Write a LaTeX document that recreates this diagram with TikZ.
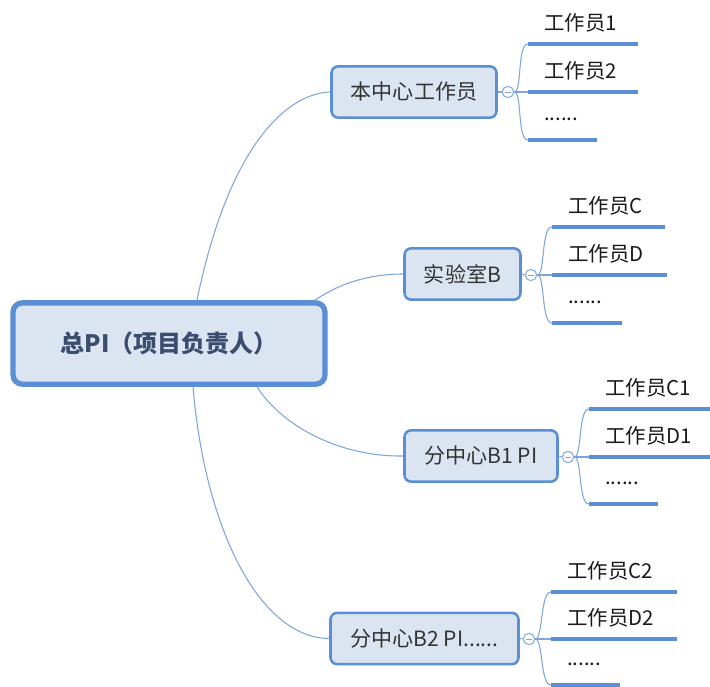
\documentclass[tikz,border=0pt]{standalone}
\usepackage{fontspec}
\setmainfont{Noto Sans CJK SC}
\definecolor{boxfill}{HTML}{DBE5F1}
\definecolor{boxline}{HTML}{5A8ED5}
\definecolor{conline}{HTML}{7EA6DD}
\definecolor{leafline}{HTML}{5A8FD6}
\definecolor{roottext}{HTML}{3A4D6E}
\definecolor{brtext}{HTML}{333333}
\definecolor{circline}{HTML}{8FB4E3}
\tikzset{
  rootbox/.style={draw=boxline, fill=boxfill, line width=4pt, rounded corners=7pt,
    font=\fontsize{18}{22}\selectfont\bfseries, text=roottext,
    minimum width=234pt, minimum height=61pt, inner sep=0pt},
  brbox/.style={draw=boxline, fill=boxfill, line width=1.9pt, rounded corners=5pt,
    font=\fontsize{15.8}{19}\selectfont, text=brtext, minimum height=38.5pt, inner sep=0pt},
  foldc/.style={circle, draw=circline, fill=white, line width=0.9pt, minimum size=8.5pt, inner sep=0pt,
    path picture={\draw[circline!80!gray, line width=0.7pt] ([xshift=-2.2pt]path picture bounding box.center) -- ([xshift=2.2pt]path picture bounding box.center);}},
  leaftext/.style={anchor=west, inner sep=0pt, font=\fontsize{15.3}{18}\selectfont, text=black!90},
  conn/.style={draw=conline, line width=0.8pt},
  leafln/.style={draw=leafline, line width=2.3pt},
}
\begin{document}
\begin{tikzpicture}[x=0.75pt, y=-0.75pt]
\useasboundingbox (0,0) rectangle (710,686);

% root
\node[rootbox] (root) at (169,343.5) {总PI（项目负责人）};

% branches
\node[brbox, minimum width=123.75pt] (b0) at (414,92) {本中心工作员};
\node[brbox, minimum width=87pt] (b1) at (462.5,274) {实验室B};
\node[brbox, minimum width=114.75pt] (b2) at (481,456) {分中心B1 PI};
\node[brbox, minimum width=141pt] (b3) at (424.5,638.5) {分中心B2 PI......};

% root connectors
\coordinate (r0) at ([xshift=21pt]root.north);
\coordinate (r1) at ([xshift=109.5pt]root.north);
\coordinate (r2) at ([xshift=66pt]root.south);
\coordinate (r3) at ([xshift=18pt]root.south);
\draw[conn] (r0) .. controls (230,140) and (290,93) .. (b0.west);
\draw[conn] (r1) .. controls (340,283) and (370,274) .. (b1.west);
\draw[conn] (r2) .. controls (285,430) and (345,457) .. (b2.west);
\draw[conn] (r3) .. controls (205,530) and (260,638) .. (b3.west);

% fold circles
\node[foldc] (c0) at (508,92) {};
\node[foldc] (c1) at (531,275) {};
\node[foldc] (c2) at (568,457) {};
\node[foldc] (c3) at (529,639) {};
\draw[conn] (b0.east) -- (c0.west);
\draw[conn] (b1.east) -- (c1.west);
\draw[conn] (b2.east) -- (c2.west);
\draw[conn] (b3.east) -- (c3.west);

% group 0
\coordinate (s0a) at (528,44);  \coordinate (e0a) at (638,44);
\coordinate (s0b) at (528,92);  \coordinate (e0b) at (638,92);
\coordinate (s0c) at (528,140); \coordinate (e0c) at (597,140);
\node[leaftext] (t0a) at (544,23) {工作员1};
\node[leaftext] (t0b) at (544,71) {工作员2};
\node[leaftext] (t0c) at (544,119) {......};

% group 1
\coordinate (s1a) at (552,227); \coordinate (e1a) at (665,227);
\coordinate (s1b) at (552,275); \coordinate (e1b) at (667,275);
\coordinate (s1c) at (552,323); \coordinate (e1c) at (622,323);
\node[leaftext] (t1a) at (568,206) {工作员C};
\node[leaftext] (t1b) at (568,254) {工作员D};
\node[leaftext] (t1c) at (568,302) {......};

% group 2
\coordinate (s2a) at (589,409); \coordinate (e2a) at (712,409);
\coordinate (s2b) at (589,457); \coordinate (e2b) at (712,457);
\coordinate (s2c) at (589,504); \coordinate (e2c) at (658,504);
\node[leaftext] (t2a) at (605,388) {工作员C1};
\node[leaftext] (t2b) at (605,436) {工作员D1};
\node[leaftext] (t2c) at (605,483) {......};

% group 3
\coordinate (s3a) at (551,592); \coordinate (e3a) at (677,592);
\coordinate (s3b) at (551,639); \coordinate (e3b) at (677,639);
\coordinate (s3c) at (551,685); \coordinate (e3c) at (620,685);
\node[leaftext] (t3a) at (567,571) {工作员C2};
\node[leaftext] (t3b) at (567,618) {工作员D2};
\node[leaftext] (t3c) at (567,664) {......};

% leaf underlines
\foreach \g in {0,1,2,3}{
  \foreach \k in {a,b,c}{
    \draw[leafln] (s\g\k) -- (e\g\k);
  }
}

% brackets
\foreach \g in {0,1,2,3}{
  \draw[conn] (c\g.east) .. controls +(8,0) and +(-11,0) .. (s\g a);
  \draw[conn] (c\g.east) -- (s\g b);
  \draw[conn] (c\g.east) .. controls +(8,0) and +(-11,0) .. (s\g c);
}
\end{tikzpicture}
\end{document}
